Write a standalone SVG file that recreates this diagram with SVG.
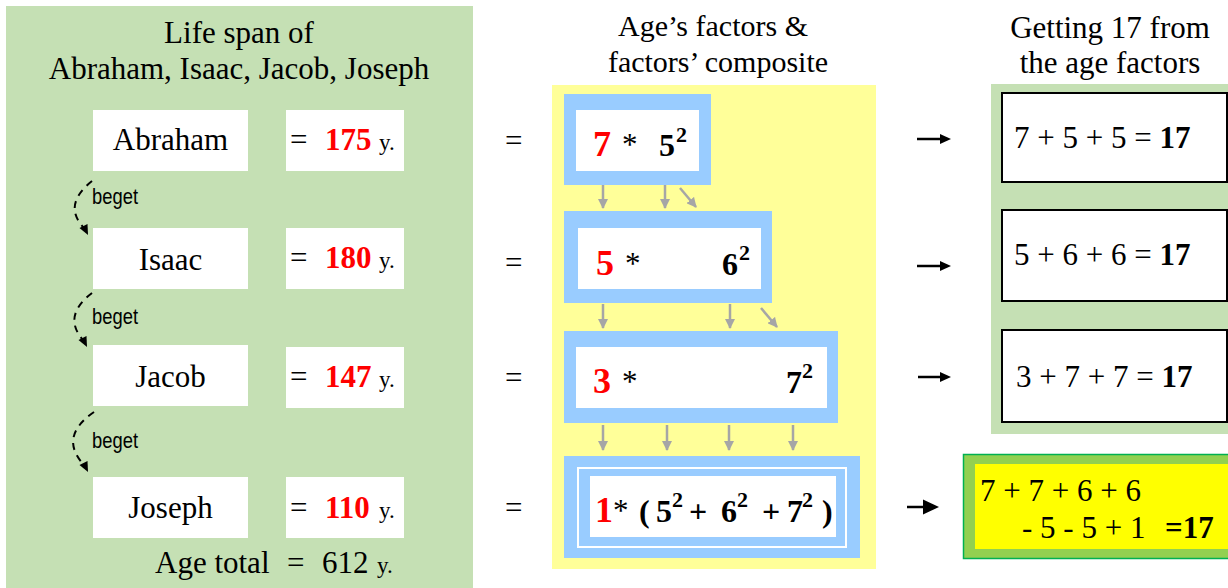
<svg xmlns="http://www.w3.org/2000/svg" width="1228" height="588" viewBox="0 0 1228 588">
<style>
text{font-family:"Liberation Serif","Times New Roman",serif;fill:#000}
.t{font-size:31px}
.mt{font-size:30px}
.nm{font-size:31px;text-anchor:middle}
.eq{font-size:31px}
.red{font-size:31px;font-weight:bold;fill:#ff0000}
.y{font-size:23px}
.rd{font-size:36px;font-weight:bold;fill:#ff0000}
.ast{font-size:31px}
.bd{font-size:32px;font-weight:bold}
.sup{font-size:22px;font-weight:bold}
.bg{font-family:"Liberation Sans Narrow","Liberation Sans",Arial,sans-serif;font-size:22px}
.wbox{fill:#ffffff}
.blue{fill:#99ccff}
.dash{fill:none;stroke:#000;stroke-width:2;stroke-dasharray:7,6}
.ga{stroke:#a6a6a6;stroke-width:2.5;fill:none}
.ka{stroke:#000;stroke-width:2.5;fill:none}
.rb{fill:#fff;stroke:#000;stroke-width:2}
</style>
<defs>
<marker id="gh" viewBox="0 0 10 10" refX="9" refY="5" markerWidth="4" markerHeight="4" orient="auto" markerUnits="strokeWidth">
<path d="M0,0 L10,5 L0,10 z" fill="#a6a6a6"/>
</marker>
</defs>

<g id="bg-panels">
<rect x="6" y="6" width="467" height="582" fill="#c5e0b4"/>
<rect x="552" y="85" width="324" height="484" fill="#ffff99"/>
<rect x="991" y="84" width="237" height="350" fill="#c5e0b4"/>
</g>

<g id="titles">
<text class="t" x="239" y="43" text-anchor="middle">Life span of</text>
<text class="t" x="239" y="79" text-anchor="middle">Abraham, Isaac, Jacob, Joseph</text>
<text class="mt" x="713" y="36" text-anchor="middle">Age’s factors &amp;</text>
<text class="mt" x="718" y="72" text-anchor="middle">factors’ composite</text>
<text class="t" x="1110" y="38" text-anchor="middle">Getting 17 from</text>
<text class="t" x="1110" y="73" text-anchor="middle">the age factors</text>
</g>

<g id="abraham">
<rect class="wbox" x="93" y="110" width="155" height="61"/>
<text class="nm" x="170.5" y="150">Abraham</text>
<rect class="wbox" x="286" y="110" width="118" height="61"/>
<text class="eq" x="290" y="150">=</text>
<text class="red" x="325" y="150">175</text>
<text class="y" x="379" y="150">y.</text>
</g>
<g id="isaac">
<rect class="wbox" x="93" y="228" width="155" height="61"/>
<text class="nm" x="170.5" y="270">Isaac</text>
<rect class="wbox" x="286" y="228" width="118" height="61"/>
<text class="eq" x="290" y="268">=</text>
<text class="red" x="325" y="268">180</text>
<text class="y" x="379" y="268">y.</text>
</g>
<g id="jacob">
<rect class="wbox" x="93" y="345" width="155" height="61"/>
<text class="nm" x="170.5" y="387">Jacob</text>
<rect class="wbox" x="286" y="347" width="118" height="61"/>
<text class="eq" x="290" y="387">=</text>
<text class="red" x="325" y="387">147</text>
<text class="y" x="379" y="387">y.</text>
</g>
<g id="joseph">
<rect class="wbox" x="93" y="477" width="155" height="61"/>
<text class="nm" x="170.5" y="518">Joseph</text>
<rect class="wbox" x="286" y="477" width="118" height="61"/>
<text class="eq" x="290" y="518">=</text>
<text class="red" x="325" y="518">110</text>
<text class="y" x="379" y="518">y.</text>
</g>
<g id="age-total">
<text class="t" x="155" y="573">Age total</text>
<text class="eq" x="287" y="573">=</text>
<text class="t" x="322" y="573">612</text>
<text class="y" x="377" y="573">y.</text>
</g>

<g id="beget-labels">
<text class="bg" x="92" y="204" textLength="46" lengthAdjust="spacingAndGlyphs">beget</text>
<text class="bg" x="92" y="324" textLength="46" lengthAdjust="spacingAndGlyphs">beget</text>
<text class="bg" x="92" y="448" textLength="46" lengthAdjust="spacingAndGlyphs">beget</text>
</g>

<g id="mid-equals">
<text class="eq" x="505" y="151">=</text>
<text class="eq" x="505" y="273">=</text>
<text class="eq" x="505" y="388">=</text>
<text class="eq" x="505" y="518">=</text>
</g>

<g id="factor1">
<rect class="blue" x="564" y="94" width="147" height="91"/>
<rect class="wbox" x="576" y="110" width="123" height="61"/>
<text class="rd" x="593" y="156">7</text>
<text class="ast" x="622" y="155">*</text>
<text class="bd" x="659" y="156">5</text>
<text class="sup" x="676" y="142">2</text>
</g>
<g id="factor2">
<rect class="blue" x="564" y="211" width="208" height="92"/>
<rect class="wbox" x="578" y="228" width="183" height="61"/>
<text class="rd" x="596" y="275">5</text>
<text class="ast" x="625" y="274">*</text>
<text class="bd" x="722" y="275">6</text>
<text class="sup" x="739" y="260">2</text>
</g>
<g id="factor3">
<rect class="blue" x="564" y="331" width="274" height="92"/>
<rect class="wbox" x="576" y="347" width="251" height="61"/>
<text class="rd" x="593" y="393">3</text>
<text class="ast" x="622" y="392">*</text>
<text class="bd" x="786" y="393">7</text>
<text class="sup" x="802" y="378">2</text>
</g>
<g id="factor4">
<rect class="blue" x="564" y="456" width="296" height="102"/>
<rect x="578" y="468" width="268" height="79" fill="none" stroke="#ffffff" stroke-width="2"/>
<rect class="wbox" x="590" y="476" width="246" height="61"/>
<text class="rd" x="595" y="522">1</text>
<text class="ast" x="613" y="521">*</text>
<text class="bd" x="639" y="522" font-weight="normal">(</text>
<text class="bd" x="656" y="522">5</text>
<text class="sup" x="672" y="507">2</text>
<text class="bd" x="689" y="522" font-size="34px">+</text>
<text class="bd" x="721" y="522">6</text>
<text class="sup" x="737" y="507">2</text>
<text class="bd" x="762" y="522" font-size="27px">+</text>
<text class="bd" x="787" y="522">7</text>
<text class="sup" x="802" y="507">2</text>
<text class="bd" x="822" y="522" font-weight="normal">)</text>
</g>

<g id="sum1">
<rect class="rb" x="1002" y="93" width="225" height="89"/>
<text class="t" x="1014" y="148">7 + 5 + 5 = <tspan font-weight="bold">17</tspan></text>
</g>
<g id="sum2">
<rect class="rb" x="1002" y="210" width="225" height="91"/>
<text class="t" x="1014" y="265">5 + 6 + 6 = <tspan font-weight="bold">17</tspan></text>
</g>
<g id="sum3">
<rect class="rb" x="1002" y="330" width="225" height="92"/>
<text class="t" x="1016" y="387">3 + 7 + 7 = <tspan font-weight="bold">17</tspan></text>
</g>
<g id="sum4">
<rect x="963.5" y="454.5" width="270" height="104" fill="#92d050" stroke="#00b050" stroke-width="1.5"/>
<rect x="975" y="464" width="253" height="85" fill="#ffff00"/>
<text class="t" x="980" y="501">7 + 7 + 6 + 6</text>
<text class="t" x="1022" y="538">- 5 - 5 + 1</text>
<text class="t" x="1165" y="538" font-weight="bold">=17</text>
</g>

<g id="connectors">
<path class="dash" d="M92,181 Q62,205 84,228"/>
<polygon points="88,235 79.5,228 87.5,224"/>
<path class="dash" d="M92,293 Q62,316 83,340"/>
<polygon points="87,347 78.5,340 86.5,336"/>
<path class="dash" d="M94,412 Q58,437 84,465"/>
<polygon points="88,472 79.5,465 87.5,461"/>

<line class="ga" x1="603" y1="185" x2="603" y2="208" marker-end="url(#gh)"/>
<line class="ga" x1="665" y1="185" x2="665" y2="208" marker-end="url(#gh)"/>
<line class="ga" x1="680" y1="188" x2="696" y2="207" marker-end="url(#gh)"/>
<line class="ga" x1="603" y1="304" x2="603" y2="328" marker-end="url(#gh)"/>
<line class="ga" x1="730" y1="304" x2="730" y2="328" marker-end="url(#gh)"/>
<line class="ga" x1="761" y1="308" x2="777" y2="327" marker-end="url(#gh)"/>
<line class="ga" x1="603" y1="425" x2="603" y2="450" marker-end="url(#gh)"/>
<line class="ga" x1="667" y1="425" x2="667" y2="450" marker-end="url(#gh)"/>
<line class="ga" x1="729" y1="425" x2="729" y2="450" marker-end="url(#gh)"/>
<line class="ga" x1="793" y1="425" x2="793" y2="450" marker-end="url(#gh)"/>

<line class="ka" x1="917" y1="139" x2="941" y2="139"/>
<polygon points="951,139 940,134 940,144"/>
<line class="ka" x1="917" y1="266" x2="941" y2="266"/>
<polygon points="951,266 940,261 940,271"/>
<line class="ka" x1="918" y1="377" x2="941" y2="377"/>
<polygon points="951,377 940,372 940,382"/>
<line class="ka" x1="907" y1="507" x2="924" y2="507"/>
<polygon points="939,507 923,499.5 923,514.5"/>
</g>
</svg>
